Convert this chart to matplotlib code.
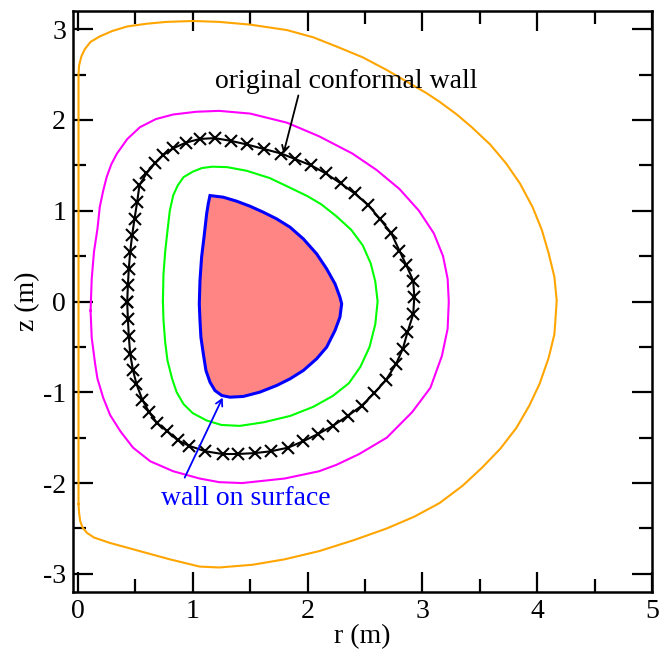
import matplotlib
matplotlib.use("Agg")
import matplotlib.pyplot as plt
from matplotlib.ticker import MultipleLocator

plt.rcParams['font.family'] = ['Liberation Serif', 'DejaVu Serif']
plt.rcParams['axes.unicode_minus'] = False

# outermost boundary (orange)
outer_r = [0.005, 0.005, 0.01, 0.03, 0.06, 0.11, 0.19, 0.30, 0.43, 0.60, 0.77, 1.0, 1.23, 1.5,
           1.82, 2.05, 2.25, 2.48, 2.69, 2.88, 3.03, 3.15, 3.30, 3.43, 3.59, 3.73, 3.85, 3.96,
           4.04, 4.10, 4.15, 4.17, 4.16, 4.15, 4.10, 4.02, 3.93, 3.82, 3.68, 3.52, 3.35, 3.15,
           2.93, 2.69, 2.40, 2.10, 1.80, 1.52, 1.23, 1.06, 0.80, 0.54, 0.28, 0.14, 0.08, 0.04,
           0.02, 0.01, 0.005]
outer_z = [-2.23, 2.50, 2.60, 2.70, 2.78, 2.86, 2.92, 2.98, 3.03, 3.06, 3.08, 3.09, 3.08, 3.05,
           2.99, 2.91, 2.81, 2.69, 2.55, 2.41, 2.30, 2.20, 2.06, 1.92, 1.73, 1.52, 1.30, 1.04,
           0.79, 0.53, 0.27, 0.01, -0.18, -0.36, -0.62, -0.91, -1.15, -1.39, -1.62, -1.83, -2.03, -2.22,
           -2.37, -2.50, -2.63, -2.75, -2.84, -2.90, -2.93, -2.92, -2.84, -2.75, -2.66, -2.60, -2.55, -2.49,
           -2.42, -2.33, -2.23]

# magenta surface
mag_r = [0.11, 0.12, 0.14, 0.17, 0.19, 0.22, 0.25, 0.29, 0.34, 0.43, 0.54, 0.68, 0.83, 1.03,
         1.23, 1.5, 1.82, 2.1, 2.39, 2.6, 2.8, 2.97, 3.1, 3.18, 3.22, 3.23, 3.22, 3.17, 3.07,
         2.91, 2.69, 2.45, 2.25, 2.1, 1.8, 1.43, 1.23, 1.06, 0.83, 0.63, 0.48, 0.37, 0.28, 0.22,
         0.17, 0.15, 0.12, 0.11]
mag_z = [-0.1, 0.25, 0.55, 0.8, 1.04, 1.22, 1.37, 1.51, 1.63, 1.79, 1.92, 2.01, 2.06, 2.09,
         2.10, 2.07, 1.97, 1.82, 1.63, 1.45, 1.24, 1.0, 0.75, 0.5, 0.25, 0.0, -0.3, -0.6, -0.95,
         -1.22, -1.5, -1.68, -1.8, -1.87, -1.95, -2.0, -1.99, -1.95, -1.87, -1.76, -1.61, -1.43, -1.25, -1.06,
         -0.85, -0.69, -0.4, -0.1]

# original conformal wall (points)
wall_r = [0.429, 0.435, 0.443, 0.455, 0.472, 0.493, 0.516, 0.536, 0.597, 0.670, 0.742, 0.829,
          0.94, 1.06, 1.19, 1.33, 1.47, 1.62, 1.77, 1.89, 2.03, 2.16, 2.29, 2.41, 2.53, 2.63, 2.73,
          2.80, 2.86, 2.92, 2.93, 2.92, 2.87, 2.83, 2.77, 2.68, 2.58, 2.47, 2.35, 2.22, 2.09, 1.96,
          1.83, 1.68, 1.54, 1.39, 1.26, 1.11, 0.97, 0.87, 0.78, 0.69, 0.62, 0.56, 0.51, 0.48, 0.455,
          0.443, 0.435, 0.429]
wall_z = [-0.007, 0.177, 0.361, 0.545, 0.729, 0.913, 1.097, 1.282, 1.411, 1.521, 1.613, 1.687,
          1.75, 1.79, 1.80, 1.77, 1.73, 1.68, 1.63, 1.57, 1.50, 1.41, 1.30, 1.19, 1.06, 0.91, 0.75,
          0.56, 0.40, 0.23, 0.05, -0.14, -0.34, -0.52, -0.69, -0.87, -1.01, -1.15, -1.26, -1.37, -1.46, -1.54,
          -1.61, -1.65, -1.67, -1.68, -1.68, -1.65, -1.59, -1.53, -1.43, -1.34, -1.22, -1.08, -0.91, -0.76, -0.58,
          -0.38, -0.19, -0.007]

# green surface
green_r = [0.74, 0.745, 0.76, 0.78, 0.80, 0.83, 0.87, 0.92, 1.0, 1.08, 1.17, 1.3, 1.47, 1.67,
           1.82, 2.0, 2.12, 2.25, 2.38, 2.48, 2.55, 2.59, 2.61, 2.59, 2.54, 2.46, 2.36, 2.22, 2.05,
           1.85, 1.62, 1.41, 1.25, 1.12, 1.0, 0.92, 0.86, 0.82, 0.78, 0.76, 0.745, 0.74]
green_z = [0.0, 0.3, 0.55, 0.78, 1.0, 1.17, 1.28, 1.37, 1.43, 1.47, 1.485, 1.48, 1.44, 1.36,
           1.27, 1.16, 1.07, 0.94, 0.79, 0.62, 0.42, 0.22, 0.0, -0.25, -0.5, -0.72, -0.9, -1.04, -1.16,
           -1.26, -1.33, -1.37, -1.36, -1.31, -1.23, -1.13, -1.0, -0.85, -0.65, -0.45, -0.2, 0.0]

# plasma boundary (wall on surface)
plasma_r = [1.150, 1.266, 1.382, 1.498, 1.614, 1.731, 1.847, 1.963, 2.079, 2.166, 2.239, 2.282,
            2.297, 2.282, 2.239, 2.166, 2.079, 1.963, 1.847, 1.731, 1.585, 1.440, 1.324, 1.252,
            1.193, 1.150, 1.115, 1.092, 1.071, 1.063, 1.057, 1.063, 1.077, 1.098, 1.121, 1.135, 1.150]
plasma_z = [1.167, 1.149, 1.105, 1.050, 0.984, 0.910, 0.819, 0.690, 0.525, 0.360, 0.195, 0.048,
            -0.026, -0.172, -0.319, -0.503, -0.631, -0.760, -0.852, -0.925, -0.998, -1.046, -1.054, -1.035,
            -0.980, -0.888, -0.760, -0.576, -0.393, -0.209, -0.026, 0.231, 0.488, 0.708, 0.965, 1.076, 1.167]

fig = plt.figure(figsize=(6.6, 6.49), dpi=100)
ax = fig.add_axes([73 / 660, 57 / 649, 579 / 660, 581 / 649])

ax.plot(outer_r, outer_z, color='#ffa500', lw=1.5)
ax.plot(mag_r, mag_z, color='#ff00ff', lw=1.5)
ax.plot(wall_r, wall_z, color='black', lw=1.5, marker='x', ms=8, mew=1.5)
ax.plot(green_r, green_z, color='#00ff00', lw=1.5)
ax.fill(plasma_r, plasma_z, facecolor='#ff8585', edgecolor='#0000ff', lw=2.2)

ax.text(2.34, 2.42, 'original conformal wall', fontsize=20, ha='center', va='center')
ax.annotate('', xy=(1.79, 1.63), xytext=(1.92, 2.27),
            arrowprops=dict(arrowstyle='->,head_length=0.45,head_width=0.25', color='black',
                            lw=1.3, shrinkA=0, shrinkB=0))
ax.text(1.46, -2.17, 'wall on surface', fontsize=20, ha='center', va='center', color='#0000ff')
ax.annotate('', xy=(1.26, -1.06), xytext=(0.93, -1.94),
            arrowprops=dict(arrowstyle='->,head_length=0.45,head_width=0.25', color='#0000ff',
                            lw=1.3, shrinkA=0, shrinkB=0))

ax.set_xlim(-0.043, 5.0)
ax.set_ylim(-3.2, 3.2)
ax.xaxis.set_major_locator(MultipleLocator(1))
ax.xaxis.set_minor_locator(MultipleLocator(0.5))
ax.yaxis.set_major_locator(MultipleLocator(1))
ax.yaxis.set_minor_locator(MultipleLocator(0.5))
ax.tick_params(which='both', direction='in', top=True, right=True, width=1.6, labelsize=20)
ax.tick_params(which='major', length=14.4, pad=5)
ax.tick_params(which='minor', length=9.4)
for s in ax.spines.values():
    s.set_linewidth(1.8)

ax.set_xlabel('r (m)', fontsize=20, labelpad=0)
ax.set_ylabel('z (m)', fontsize=20, labelpad=2)

fig.savefig('out.png', dpi=100)
